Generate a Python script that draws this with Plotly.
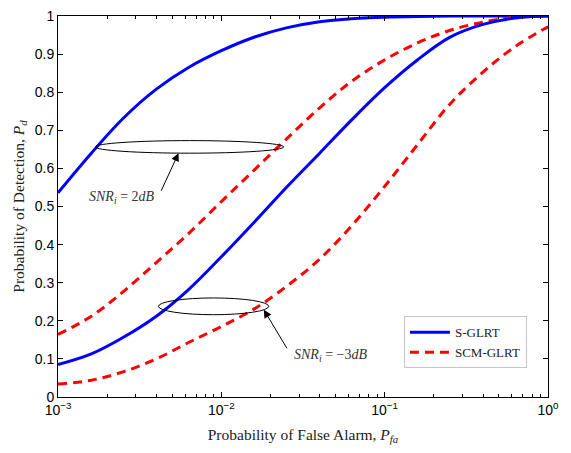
import plotly.graph_objects as go

pfa = [0.001, 0.0016, 0.0025, 0.004, 0.0063, 0.01, 0.016, 0.025, 0.04,
       0.063, 0.1, 0.16, 0.25, 0.4, 0.63, 1.0]

s_glrt_2db = [0.536, 0.640, 0.731, 0.808, 0.865, 0.909, 0.945, 0.969, 0.985,
              0.993, 0.997, 0.999, 1.0, 1.0, 1.0, 1.0]
s_glrt_m3db = [0.085, 0.113, 0.156, 0.212, 0.282, 0.368, 0.460, 0.550, 0.640,
               0.728, 0.812, 0.886, 0.944, 0.978, 0.995, 1.0]
scm_glrt_2db = [0.164, 0.212, 0.276, 0.353, 0.429, 0.513, 0.597, 0.677, 0.759,
                0.829, 0.885, 0.930, 0.962, 0.984, 0.997, 1.0]
scm_glrt_m3db = [0.034, 0.044, 0.066, 0.100, 0.143, 0.185, 0.232, 0.290, 0.362,
                 0.450, 0.553, 0.664, 0.768, 0.853, 0.920, 0.972]

series_names = ["S-GLRT", "SCM-GLRT"]
y_ticks = [0, 0.1, 0.2, 0.3, 0.4, 0.5, 0.6, 0.7, 0.8, 0.9, 1]
y_ticktext = ["0", "0.1", "0.2", "0.3", "0.4", "0.5", "0.6", "0.7", "0.8", "0.9", "1"]
x_ticks = [0.001, 0.01, 0.1, 1]
x_ticktext = ["10<sup>\u22123</sup>", "10<sup>\u22122</sup>", "10<sup>\u22121</sup>", "10<sup>0</sup>"]
x_minor_ticks = [0.002, 0.003, 0.004, 0.005, 0.006, 0.007, 0.008, 0.009,
                 0.02, 0.03, 0.04, 0.05, 0.06, 0.07, 0.08, 0.09,
                 0.2, 0.3, 0.4, 0.5, 0.6, 0.7, 0.8, 0.9]

BLUE = "#0000ff"
RED = "#ff0000"
DASH = "9px,6px"

fig = go.Figure()
fig.add_trace(go.Scatter(x=pfa, y=s_glrt_2db, mode="lines", name=series_names[0],
                         line=dict(color=BLUE, width=3, shape="spline"), legendgroup="s"))
fig.add_trace(go.Scatter(x=pfa, y=scm_glrt_2db, mode="lines", name=series_names[1],
                         line=dict(color=RED, width=3, dash=DASH, shape="spline"), legendgroup="scm"))
fig.add_trace(go.Scatter(x=pfa, y=s_glrt_m3db, mode="lines", name=series_names[0],
                         line=dict(color=BLUE, width=3, shape="spline"), showlegend=False, legendgroup="s"))
fig.add_trace(go.Scatter(x=pfa, y=scm_glrt_m3db, mode="lines", name=series_names[1],
                         line=dict(color=RED, width=3, dash=DASH, shape="spline"), showlegend=False, legendgroup="scm"))

# ellipses (x in paper fraction of the log axis, y in data units)
fig.add_shape(type="circle", xref="paper", yref="y", x0=0.0763, x1=0.4607, y0=0.640, y1=0.673,
              line=dict(color="black", width=1))
fig.add_shape(type="circle", xref="paper", yref="y", x0=0.2050, x1=0.4300, y0=0.216, y1=0.260,
              line=dict(color="black", width=1))

serif = "Liberation Serif"
# arrows
fig.add_annotation(x=-2.262, y=0.640, xref="x", yref="y", text="", showarrow=True,
                   ax=-18, ay=39, arrowhead=2, arrowsize=1.6, arrowwidth=1, arrowcolor="black")
fig.add_annotation(x=-1.740, y=0.229, xref="x", yref="y", text="", showarrow=True,
                   ax=24, ay=40, arrowhead=2, arrowsize=1.6, arrowwidth=1, arrowcolor="black")
# labels
fig.add_annotation(x=-2.606, y=0.524, xref="x", yref="y", showarrow=False,
                   text="<i>SNR<sub>i</sub></i> = 2<i>dB</i>",
                   font=dict(family=serif, size=14, color="#333333"))
fig.add_annotation(x=-1.329, y=0.1085, xref="x", yref="y", showarrow=False,
                   text="<i>SNR<sub>i</sub></i> = \u22123<i>dB</i>",
                   font=dict(family=serif, size=14, color="#333333"))

fig.update_layout(
    width=571, height=453,
    margin=dict(l=58, r=23, t=8, b=56),
    paper_bgcolor="white", plot_bgcolor="white",
    font=dict(family="Liberation Sans", size=14, color="black"),
    legend=dict(x=0.957, y=0.075, xanchor="right", yanchor="bottom",
                bgcolor="white", bordercolor="#c8c4c0", borderwidth=1,
                font=dict(family=serif, size=13, color="#222222"),
                itemwidth=40, tracegroupgap=0),
    xaxis=dict(type="log", range=[-3, 0], tickvals=x_ticks, ticktext=x_ticktext,
               showline=True, linecolor="black", linewidth=1, mirror="ticks",
               ticks="inside", ticklen=5, tickcolor="black", showgrid=False, zeroline=False,
               ticklabeloverflow="allow",
               minor=dict(tickvals=x_minor_ticks, ticks="inside", ticklen=3,
                          tickcolor="black", showgrid=False),
               title=dict(text="Probability of False Alarm, <i>P<sub>fa</sub></i>",
                          font=dict(family=serif, size=15.5, color="#222222"), standoff=12)),
    yaxis=dict(range=[0, 1.0001], tickvals=y_ticks, ticktext=y_ticktext,
               showline=True, linecolor="black", linewidth=1, mirror="ticks",
               ticks="inside", ticklen=5, tickcolor="black", showgrid=False, zeroline=False,
               ticklabeloverflow="allow",
               title=dict(text="Probability of Detection, <i>P<sub>d</sub></i>",
                          font=dict(family=serif, size=15.5, color="#222222"), standoff=6)),
)

fig.write_html("out.html")
